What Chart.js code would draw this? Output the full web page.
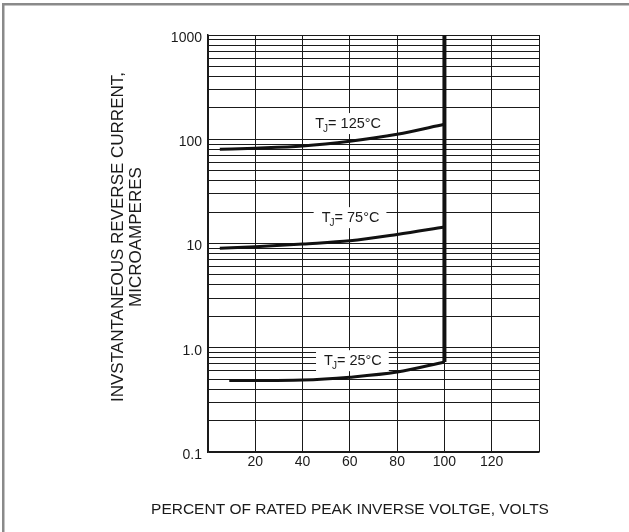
<!DOCTYPE html>
<html>
<head>
<meta charset="utf-8">
<script src="https://cdn.jsdelivr.net/npm/chart.js@4"></script>
<style>
  html, body { margin: 0; padding: 0; background: #ffffff; }
  canvas { display: block; }
</style>
</head>
<body>
<canvas id="graphCanvas" width="629" height="532"></canvas>
<script>
// percent of rated peak inverse voltage
var volts125 = [5, 20, 40, 60, 80, 100];
var volts75 = [5, 20, 40, 60, 80, 100];
var volts25 = [9, 20, 40, 60, 80, 100];
// reverse current, microamperes
var current125 = [80, 82, 86, 95.5, 111.5, 139];
var current75 = [9.0, 9.3, 9.9, 10.6, 12.2, 14.4];
var current25 = [0.485, 0.485, 0.49, 0.522, 0.584, 0.73];
// vertical limit at 100 %
var limitVolts = [100, 100];
var limitCurrent = [0.73, 1000];

var curveNames = ['125°C', '75°C', '25°C'];
var curveLabelVolts = [59.5, 60.5, 61.5];
var curveLabelCurrent = [143, 17.9, 0.76];

var xTickValues = [0, 20, 40, 60, 80, 100, 120, 140];
var xTickLabels = ['', '20', '40', '60', '80', '100', '120', ''];
var yGridValues = [0.1, 0.2, 0.3, 0.4, 0.5, 0.6, 0.7, 0.8, 0.9,
                   1, 2, 3, 4, 5, 6, 7, 8, 9,
                   10, 20, 30, 40, 50, 60, 70, 80, 90,
                   100, 200, 300, 400, 500, 600, 700, 800, 900, 1000];
var yMajorValues = [0.1, 1, 10, 100, 1000];
var yMajorLabels = ['0.1', '1.0', '10', '100', '1000'];

var FONT = '"Liberation Sans", Arial, sans-serif';

function toPoints(xs, ys) {
    var pts = [];
    for (var i in xs) {
        pts.push({ x: xs[i], y: ys[i] });
    }
    return pts;
}

function curve(xs, ys) {
    return {
        data: toPoints(xs, ys),
        borderColor: '#111111',
        borderWidth: 3,
        pointRadius: 0,
        fill: false,
        cubicInterpolationMode: 'monotone'
    };
}

// white page + grey frame (top and left)
var framePlugin = {
    id: 'frame',
    beforeDraw: function (chart) {
        var ctx = chart.ctx;
        ctx.save();
        ctx.fillStyle = '#ffffff';
        ctx.fillRect(0, 0, chart.width, chart.height);
        ctx.fillStyle = '#8a8a8a';
        ctx.fillRect(2, 3, chart.width - 2, 2.5);
        ctx.fillRect(2, 3, 2.5, chart.height - 3);
        ctx.restore();
    }
};

// axis titles
var titlePlugin = {
    id: 'titles',
    afterDraw: function (chart) {
        var ctx = chart.ctx;
        ctx.save();
        ctx.fillStyle = '#1a1a1a';
        ctx.textAlign = 'center';
        ctx.textBaseline = 'middle';
        ctx.font = '15.5px ' + FONT;
        ctx.fillText('PERCENT OF RATED PEAK INVERSE VOLTGE, VOLTS', 350, 510);
        ctx.translate(118, 237);
        ctx.rotate(-Math.PI / 2);
        ctx.font = '17px ' + FONT;
        ctx.fillText('INVSTANTANEOUS REVERSE CURRENT,', 0, 0);
        ctx.fillText('MICROAMPERES', 0, 18);
        ctx.restore();
    }
};

// "TJ= xx°C" labels on white boxes
var curveLabelPlugin = {
    id: 'curveLabels',
    afterDatasetsDraw: function (chart) {
        var ctx = chart.ctx;
        var xs = chart.scales.x, ys = chart.scales.y;
        ctx.save();
        ctx.textBaseline = 'alphabetic';
        ctx.textAlign = 'left';
        for (var i in curveNames) {
            var cx = xs.getPixelForValue(curveLabelVolts[i]);
            var cy = ys.getPixelForValue(curveLabelCurrent[i]);
            ctx.font = '14.5px ' + FONT;
            var wT = ctx.measureText('T').width;
            var rest = '= ' + curveNames[i];
            var wR = ctx.measureText(rest).width;
            ctx.font = '10px ' + FONT;
            var wJ = ctx.measureText('J').width;
            var w = wT + wJ + wR;
            var x0 = cx - w / 2;
            var base = cy + 5;
            ctx.fillStyle = '#ffffff';
            ctx.fillRect(x0 - 8, cy - 10, w + 14, 21);
            ctx.fillStyle = '#1a1a1a';
            ctx.font = '14.5px ' + FONT;
            ctx.fillText('T', x0, base);
            ctx.font = '10px ' + FONT;
            ctx.fillText('J', x0 + wT - 1, base + 4);
            ctx.font = '14.5px ' + FONT;
            ctx.fillText(rest, x0 + wT + wJ - 1, base);
        }
        ctx.restore();
    }
};

var graphTarget = document.getElementById('graphCanvas');

var lineGraph = new Chart(graphTarget, {
    type: 'line',
    data: {
        datasets: [
            curve(volts125, current125),
            curve(volts75, current75),
            curve(volts25, current25),
            {
                data: toPoints(limitVolts, limitCurrent),
                borderColor: '#111111',
                borderWidth: 4,
                pointRadius: 0,
                fill: false
            }
        ]
    },
    options: {
        responsive: false,
        animation: false,
        layout: {
            padding: { left: 0, top: 35, right: 90, bottom: 0 }
        },
        plugins: {
            legend: { display: false },
            tooltip: { enabled: false }
        },
        scales: {
            x: {
                type: 'linear',
                min: 0,
                max: 140,
                afterBuildTicks: function (scale) {
                    scale.ticks = xTickValues.map(function (v) { return { value: v }; });
                },
                afterFit: function (scale) { scale.height = 80; },
                ticks: {
                    autoSkip: false,
                    maxRotation: 0,
                    padding: 2,
                    color: '#1a1a1a',
                    font: { family: FONT, size: 14 },
                    callback: function (value, index) { return xTickLabels[index]; }
                },
                grid: { color: '#1a1a1a', lineWidth: 1, drawTicks: false },
                border: { color: '#1a1a1a', width: 1.5 }
            },
            y: {
                type: 'logarithmic',
                min: 0.1,
                max: 1000,
                afterBuildTicks: function (scale) {
                    scale.ticks = yGridValues.map(function (v) { return { value: v }; });
                },
                afterFit: function (scale) { scale.width = 208; },
                ticks: {
                    autoSkip: false,
                    padding: 6,
                    labelOffset: 3,
                    color: '#1a1a1a',
                    font: { family: FONT, size: 14 },
                    callback: function (value) {
                        var k = yMajorValues.indexOf(value);
                        return k >= 0 ? yMajorLabels[k] : '';
                    }
                },
                grid: { color: '#1a1a1a', lineWidth: 1, drawTicks: false },
                border: { color: '#1a1a1a', width: 1.5 }
            }
        }
    },
    plugins: [framePlugin, titlePlugin, curveLabelPlugin]
});
</script>
</body>
</html>
